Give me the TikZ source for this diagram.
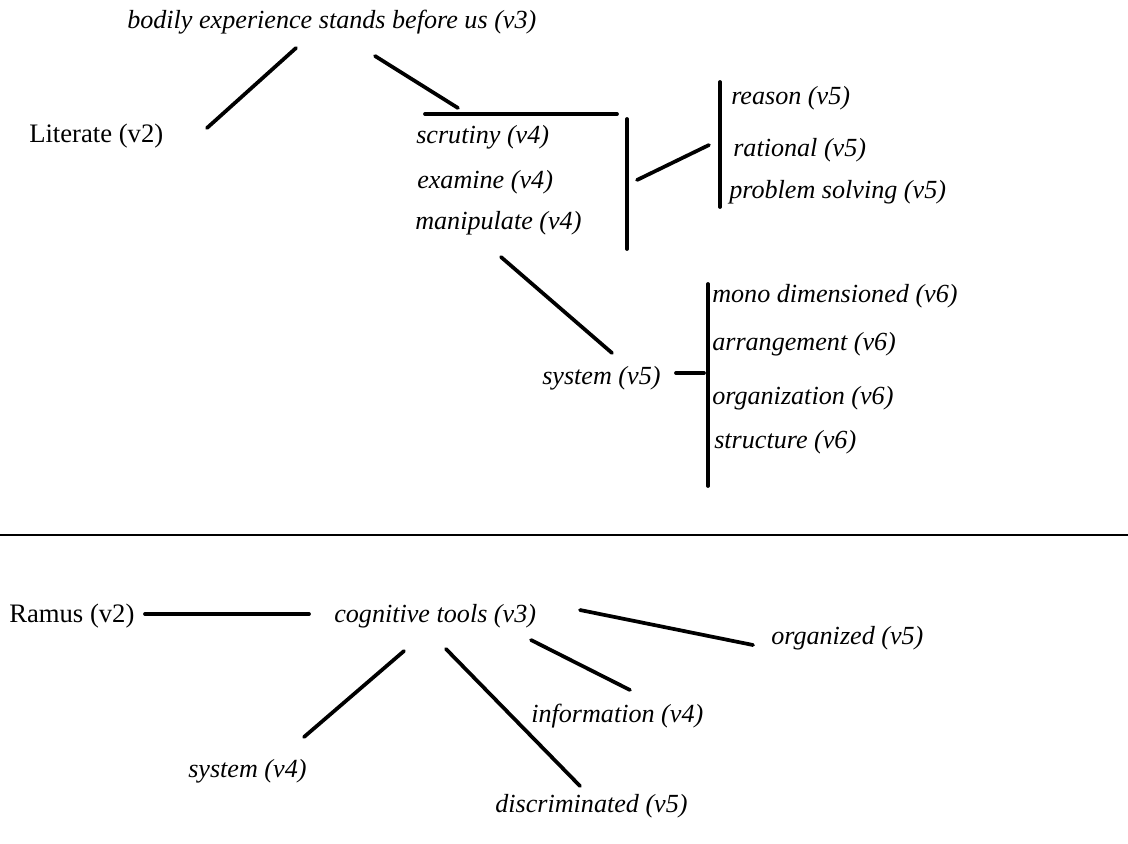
\documentclass[tikz,border=0pt]{standalone}
\usepackage{fontspec}
\setmainfont{Liberation Serif}
\begin{document}
\begin{tikzpicture}[x=0.75pt,y=-0.75pt,
  lbl/.style={anchor=base west,inner sep=0pt,font=\fontsize{19.6}{22}\selectfont\itshape},
  up/.style={anchor=base west,inner sep=0pt,font=\fontsize{20}{22}\selectfont},
  link/.style={line width=2.8pt,line cap=round}]
\useasboundingbox (0,0) rectangle (1128,843);

% upper tree
\node[lbl] (bodily) at (127,28) {bodily experience stands before us (v3)};
\node[up] (literate) at (29,142) {Literate (v2)};
\node[lbl] (scrutiny) at (416,143) {scrutiny (v4)};
\node[lbl] (examine) at (417,188) {examine (v4)};
\node[lbl] (manip) at (415,229) {manipulate (v4)};
\node[lbl] (reason) at (731,104) {reason (v5)};
\node[lbl] (rational) at (733,156) {rational (v5)};
\node[lbl] (problem) at (729,198) {problem solving (v5)};
\node[lbl] (sys5) at (542,384) {system (v5)};
\node[lbl] (mono) at (712,302) {mono dimensioned (v6)};
\node[lbl] (arr) at (712,350) {arrangement (v6)};
\node[lbl] (org) at (712,404) {organization (v6)};
\node[lbl] (struct) at (714,448) {structure (v6)};

\coordinate (b1) at (296,48);  \coordinate (b2) at (207,128);
\coordinate (b3) at (375,56);  \coordinate (b4) at (458,108);
\coordinate (h1) at (425,114); \coordinate (h2) at (617,114);
\coordinate (v1) at (627,119); \coordinate (v2) at (627,249);
\coordinate (r1) at (637,180); \coordinate (r2) at (709,145);
\coordinate (w1) at (720,82);  \coordinate (w2) at (720,207);
\coordinate (m1) at (501,257); \coordinate (m2) at (612,353);
\coordinate (s1) at (676,373); \coordinate (s2) at (704,373);
\coordinate (x1) at (708,284); \coordinate (x2) at (708,486);

\draw[link] (b1) -- (b2);
\draw[link] (b3) -- (b4);
\draw[link] (h1) -- (h2);
\draw[link] (v1) -- (v2);
\draw[link] (r1) -- (r2);
\draw[link] (w1) -- (w2);
\draw[link] (m1) -- (m2);
\draw[link] (s1) -- (s2);
\draw[link] (x1) -- (x2);

% separator
\coordinate (sepL) at (0,535); \coordinate (sepR) at (1128,535);
\draw[line width=2.2pt] (sepL) -- (sepR);

% lower tree
\node[up] (ramus) at (9,622) {Ramus (v2)};
\node[lbl] (cog) at (334,622) {cognitive tools (v3)};
\node[lbl] (organized) at (771,644) {organized (v5)};
\node[lbl] (info) at (531,722) {information (v4)};
\node[lbl] (sys4) at (188,777) {system (v4)};
\node[lbl] (disc) at (495,812) {discriminated (v5)};

\coordinate (c1) at (145,614); \coordinate (c2) at (309,614);
\coordinate (o1) at (580,610); \coordinate (o2) at (753,645);
\coordinate (i1) at (531,640); \coordinate (i2) at (630,690);
\coordinate (y1) at (404,651); \coordinate (y2) at (304,737);
\coordinate (d1) at (446,649); \coordinate (d2) at (580,786);

\draw[link] (c1) -- (c2);
\draw[link] (o1) -- (o2);
\draw[link] (i1) -- (i2);
\draw[link] (y1) -- (y2);
\draw[link] (d1) -- (d2);
\end{tikzpicture}
\end{document}
